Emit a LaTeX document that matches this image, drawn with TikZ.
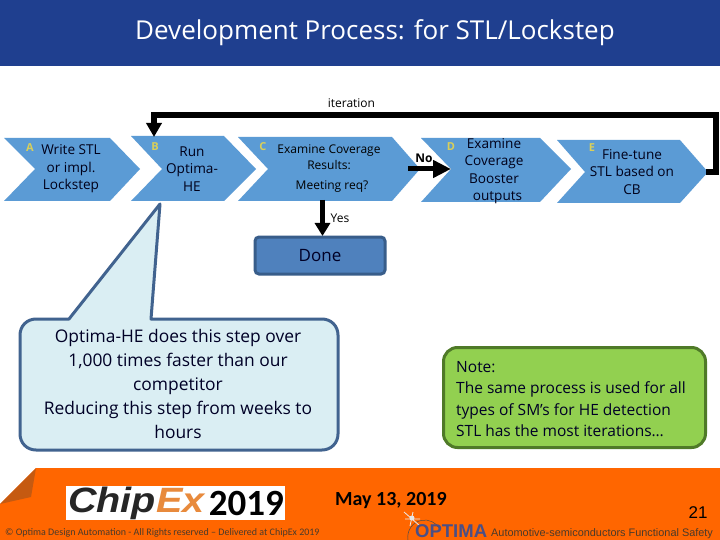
\documentclass[tikz,border=0pt]{standalone}
\usepackage{fontspec}
\setmainfont{Open Sans}
\newfontfamily\arialf{Liberation Sans}
\newfontfamily\calf{Carlito}
\usetikzlibrary{arrows.meta}
\definecolor{hdr}{HTML}{1F3F8F}
\definecolor{chev}{HTML}{5B9BD5}
\definecolor{donefill}{HTML}{4F81BD}
\definecolor{doneline}{HTML}{385D8A}
\definecolor{callfill}{HTML}{DAEEF3}
\definecolor{callline}{HTML}{41638F}
\definecolor{notefill}{HTML}{92D050}
\definecolor{noteline}{HTML}{4F7A28}
\definecolor{orng}{HTML}{FF6600}
\definecolor{foldc}{HTML}{C55A11}
\definecolor{letr}{HTML}{D9CF5A}
\definecolor{optc}{HTML}{4A4F86}
\definecolor{logog}{HTML}{262626}
\definecolor{logoo}{HTML}{E88A3C}
\definecolor{foot}{HTML}{4A3A2A}
\tikzset{
  x=1pt,y=-1pt,
  chevshape/.style={fill=chev,draw=none},
  chevtext/.style={font=\fontsize{13.6}{17.5}\selectfont,align=center,text=black!90!blue,inner sep=0pt},
  smalltext/.style={font=\fontsize{12}{16}\selectfont,align=center,text=black,inner sep=0pt},
  letter/.style={font=\fontsize{11}{11}\selectfont\bfseries,text=letr,inner sep=0pt},
  thickarrow/.style={line width=6pt,draw=black,-{Triangle[length=14pt,width=15pt]}},
  lab/.style={font=\fontsize{12}{12}\selectfont,text=black,inner sep=0pt},
  bodytext/.style={font=\fontsize{17.4}{24}\selectfont,align=center,text=black!85!blue,inner sep=0pt},
}
\begin{document}
\begin{tikzpicture}
\useasboundingbox (0,0) rectangle (720,540);
\fill[white] (0,0) rectangle (720,540);
% header
\fill[hdr] (0,0) rectangle (720,66);
\node[inner sep=0pt,text=white,font=\fontsize{26}{26}\selectfont] (title) at (375,33) {Development Process: for STL/Lockstep};
% footer
\fill[orng] (36,468) -- (720,468) -- (720,540) -- (0,540) -- (0,504) -- cycle;
\fill[foldc] (36,468) -- (31,497) -- (0,504) -- cycle;
% chevrons
\fill[chevshape] (4,138) -- (110,138) -- (140,169) -- (110,201) -- (4,201) -- (35,169) -- cycle;
\fill[chevshape] (131,136) -- (224,136) -- (256,169) -- (224,201) -- (131,201) -- (162,169) -- cycle;
\fill[chevshape] (238,137) -- (392,137) -- (420,169) -- (392,201) -- (238,201) -- (268,169) -- cycle;
\fill[chevshape] (421,138) -- (540,138) -- (571,169) -- (540,202) -- (421,202) -- (451,169) -- cycle;
\fill[chevshape] (557,140) -- (680,140) -- (708,172) -- (680,203) -- (557,203) -- (585,172) -- cycle;
\coordinate (Btop) at (154,137);
\coordinate (Etip) at (706,172);
\coordinate (Dnotch) at (451,169);
\coordinate (Cbottom) at (322.5,200);
\coordinate (Cright) at (408,169);
% chevron texts
\node[letter] (la) at (30,148) {A};
\node[letter] (lb) at (155,147) {B};
\node[letter] (lc) at (263,147) {C};
\node[letter] (ld) at (451,147) {D};
\node[letter] (le) at (592,148) {E};
\node[chevtext] (ta) at (71,169) {Write STL\\or impl.\\Lockstep};
\node[chevtext] (tb) at (192,169) {Run\\Optima-\\HE};
\node[smalltext] (tc1) at (329,151) {Examine Coverage};
\node[smalltext] (tc2) at (329,165) {Results:};
\node[smalltext] (tc3) at (332,187) {Meeting req?};
\node[chevtext] (td) at (494,171) {Examine\\Coverage\\Booster\\\ \ outputs};
\node[chevtext] (te) at (632,172) {Fine-tune\\STL based on\\CB};
% arrows
\node[lab] (iter) at (351.5,103) {iteration};
\node[lab,font=\fontsize{12}{12}\selectfont\bfseries] (no) at (424,158) {No};
\node[lab] (yes) at (340,218) {Yes};
\draw[thickarrow] (Etip) -- (715.5,172) -- (715.5,115) -- (154,115) -- (Btop);
\draw[line width=5pt,draw=black,-{Triangle[length=18pt,width=17pt]}] (Cright) -- (Dnotch);
\draw[line width=5pt,draw=black,-{Triangle[length=13pt,width=15pt]}] (Cbottom) -- (322.5,236);
% done
\node[draw=doneline,fill=donefill,line width=3pt,rounded corners=4pt,minimum width=130pt,minimum height=37pt,inner sep=0pt,text=black!85!blue,font=\fontsize{17}{17}\selectfont] (done) at (320,255.5) {Done};
% callout
\path[fill=callfill,draw=callline,line width=3pt,line join=round]
  (36,319) -- (69,319) -- (160,204) -- (151,319) -- (322,319)
  .. controls (331,319) and (338,326) .. (338,335) -- (338,434)
  .. controls (338,443) and (331,450) .. (322,450) -- (36,450)
  .. controls (27,450) and (20,443) .. (20,434) -- (20,335)
  .. controls (20,326) and (27,319) .. (36,319) -- cycle;
\node[bodytext] (calltext) at (178,384) {Optima-HE does this step over\\1,000 times faster than our\\competitor\\Reducing this step from weeks to\\hours};
% note
\node[draw=noteline,fill=notefill,line width=3pt,rounded corners=14pt,minimum width=262pt,minimum height=100pt,inner sep=0pt] (note) at (574.5,397.5) {};
\node[font=\fontsize{15.5}{21.5}\selectfont,align=left,text=black!85!blue,inner sep=0pt,anchor=west] (notetext) at (456,399) {Note:\\The same process is used for all\\types of SM’s for HE detection\\STL has the most iterations…};
% footer contents
\node[fill=white,minimum width=219pt,minimum height=34pt,inner sep=0pt] (logo) at (175.5,503) {};
\node[inner sep=0pt,anchor=west,font=\arialf\fontsize{37}{37}\selectfont\bfseries\itshape,text=logog] (chip) at (68,503) {\scalebox{1.07}[0.95]{Chip\textcolor{logoo}{Ex}}};
\node[inner sep=0pt,anchor=east,font=\calf\fontsize{37}{37}\selectfont\bfseries,text=black] (yr) at (284,503) {2019};
\node[inner sep=0pt,font=\calf\fontsize{10}{10}\selectfont,text=foot,anchor=west] (copy) at (5,533) {© Optima Design Automation - All Rights reserved – Delivered at ChipEx 2019};
\node[inner sep=0pt,text=black,anchor=west,font=\calf\fontsize{20}{20}\selectfont\bfseries] (date) at (335,501) {May 13, 2019};
\node[inner sep=0pt,font=\arialf\fontsize{17}{17}\selectfont,text=black] (pg) at (698,513) {21};
\draw[black!70,line width=0.5pt] (408,540) arc[start angle=-190,end angle=-30,radius=17];
\draw[white!85!gray,line width=0.8pt] (404,512) -- (420,526) (413,512) -- (410,526) (405,519) -- (420,519);
\fill[white!80!gray] (412,518) circle (2.5);
\node[inner sep=0pt,anchor=west,font=\arialf\fontsize{18.5}{18.5}\selectfont\bfseries,text=optc] (opt) at (415,531) {OPTIMA};
\node[inner sep=0pt,anchor=west,font=\arialf\fontsize{10.9}{10.9}\selectfont,text=foot] (auto) at (491,533.5) {Automotive-semiconductors Functional Safety};
\end{tikzpicture}
\end{document}
